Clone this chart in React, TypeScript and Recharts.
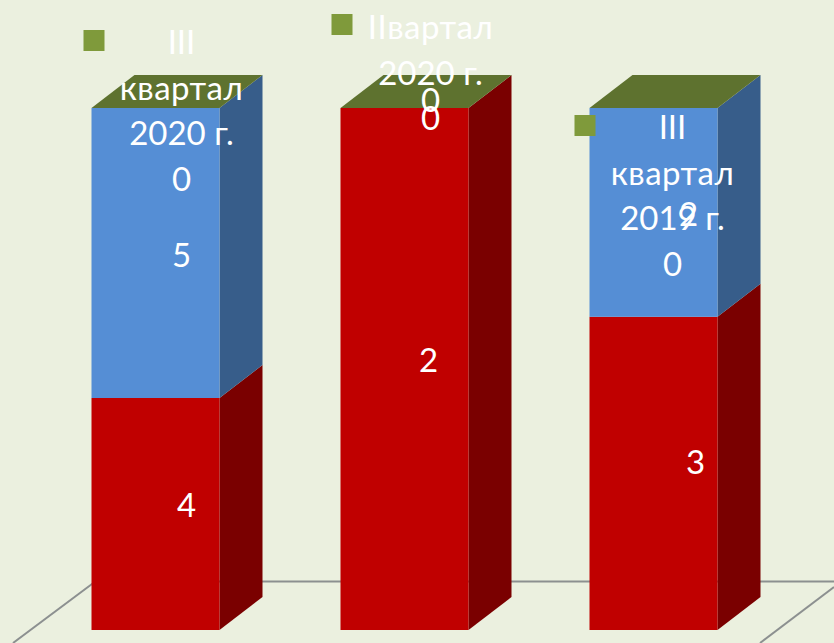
import { BarChart, Bar, XAxis, YAxis, LabelList, Customized } from "recharts";

const categories = ["III квартал 2020 г.", "IIвартал 2020 г.", "III квартал 2019 г."];
const categoryLines = [
  ["III", "квартал", "2020 г."],
  ["IIвартал", "2020 г."],
  ["III", "квартал", "2019 г."],
];
const redValues = [4, 2, 3];
const blueValues = [5, 0, 2];
const topValues = [0, 0, 0];

const chartData = categories.map((name, i) => ({
  name,
  red: redValues[i],
  blue: blueValues[i],
  top: topValues[i],
}));

// depth of the fake 3D box
const DX = 43;
const DY = 33;
const FONT = "Lato, sans-serif";
const FONT_SIZE = 33;
const LINE_H = 45.5;

// label nudges, the original chart had them dragged by hand
const redNudge = [[31, -10], [24, -10], [42, -12]];
const blueNudge = [[26, 1], [26, -9], [35, 1]];
// block: center x from bar left, first line middle y, square x from bar left, square y
const blockPos = [
  { cx: 90, y: 41, sx: -8, sy: 30 },
  { cx: 90, y: 26, sx: -9, sy: 14 },
  { cx: 83, y: 126, sx: -15, sy: 115 },
];

const Box = ({ x, y, width, height, front, side }: any) => {
  if (!height) return null;
  const r = x + width;
  return (
    <g>
      <polygon points={`${r},${y} ${r + DX},${y - DY} ${r + DX},${y + height - DY} ${r},${y + height}`} fill={side} />
      <rect x={x} y={y} width={width} height={height} fill={front} />
    </g>
  );
};

const TopFace = ({ x, y, width }: any) => (
  <polygon
    points={`${x},${y} ${x + DX},${y - DY} ${x + width + DX},${y - DY} ${x + width},${y}`}
    fill="#5E722F"
  />
);

const ValueLabel = ({ x, y, width, height, value, index, nudge }: any) => (
  <text
    x={x + width / 2 + nudge[index][0]}
    y={y + height / 2 + nudge[index][1]}
    textAnchor="middle"
    dominantBaseline="central"
    fill="#fff"
    fontSize={FONT_SIZE}
    fontFamily={FONT}
  >
    {value}
  </text>
);

const BlockLabel = ({ x, value, index }: any) => {
  const p = blockPos[index];
  const lines = [...categoryLines[index], String(value)];
  return (
    <g>
      <rect x={x + p.sx} y={p.sy} width={21} height={21} fill="#7F9A3B" />
      {lines.map((t, i) => (
        <text
          key={i}
          x={x + p.cx}
          y={p.y + i * LINE_H}
          textAnchor="middle"
          dominantBaseline="central"
          fill="#fff"
          fontSize={FONT_SIZE}
          fontFamily={FONT}
          letterSpacing={/[а-я]{3}/.test(t) ? 0.5 : 0}
        >
          {t}
        </text>
      ))}
    </g>
  );
};

const Floor = () => (
  <g stroke="#8C9090" strokeWidth={2} fill="none">
    <line x1={96} y1={581.5} x2={834} y2={581.5} />
    <line x1={96} y1={581} x2={13} y2={643} />
    <line x1={834} y1={587} x2={760} y2={643} />
  </g>
);

export default function App() {
  return (
    <div style={{ position: "absolute", left: 0, top: 0, width: 834, height: 643, background: "#EBF0DF", overflow: "hidden" }}>
      <BarChart
        width={834}
        height={643}
        data={chartData}
        stackOffset="expand"
        barSize={128}
        margin={{ top: 108, right: 56.5, bottom: 13, left: 30.5 }}
      >
        <XAxis dataKey="name" hide />
        <YAxis hide domain={[0, 1]} />
        <Customized component={Floor} />
        <Bar
          dataKey="red"
          stackId="a"
          isAnimationActive={false}
          shape={(p: any) => <Box {...p} front="#C00000" side="#7A0000" />}
        >
          <LabelList dataKey="red" content={(p: any) => <ValueLabel {...p} nudge={redNudge} />} />
        </Bar>
        <Bar
          dataKey="blue"
          stackId="a"
          isAnimationActive={false}
          shape={(p: any) => <Box {...p} front="#558ED5" side="#375D8A" />}
        >
          <LabelList dataKey="blue" content={(p: any) => <ValueLabel {...p} nudge={blueNudge} />} />
        </Bar>
        <Bar dataKey="top" stackId="a" isAnimationActive={false} shape={(p: any) => <TopFace {...p} />}>
          <LabelList dataKey="top" content={(p: any) => <BlockLabel {...p} />} />
        </Bar>
      </BarChart>
    </div>
  );
}
